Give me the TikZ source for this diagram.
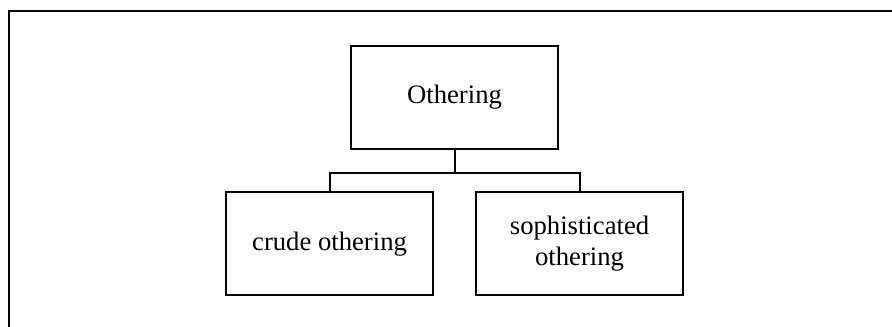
\documentclass[tikz,border=0pt]{standalone}
\usepackage{fontspec}
\setmainfont{Liberation Serif}
\usetikzlibrary{positioning}

\tikzset{
	concept/.style = {draw, line width=1.5pt, minimum width=155.25pt,
		minimum height=77.5pt, align=center, inner sep=2pt,
		font=\fontsize{20}{23}\selectfont},
	branch/.style  = {line width=1.5pt}
}

\begin{document}
\begin{tikzpicture}
		\useasboundingbox (0,0) rectangle (669pt,-245.25pt);
		% frame
		\draw[line width=1.5pt] (669pt,-8.25pt) -- (6.75pt,-8.25pt) -- (6.75pt,-245.25pt);
		\node [concept] (othering) at (340.9pt,-73.1pt) {Othering};
		\node [concept, below=30.75pt of othering, xshift=-93.75pt] (crude) {crude othering};
		\node [concept, right=30.75pt of crude] (soph) {sophisticated\\othering};
		\coordinate (split) at ([yshift=-17pt]othering.south);
		\draw [branch] (othering.south) -- (split) -| (crude.north);
		\draw [branch] (split) -| (soph.north);
		\end{tikzpicture}
\end{document}
